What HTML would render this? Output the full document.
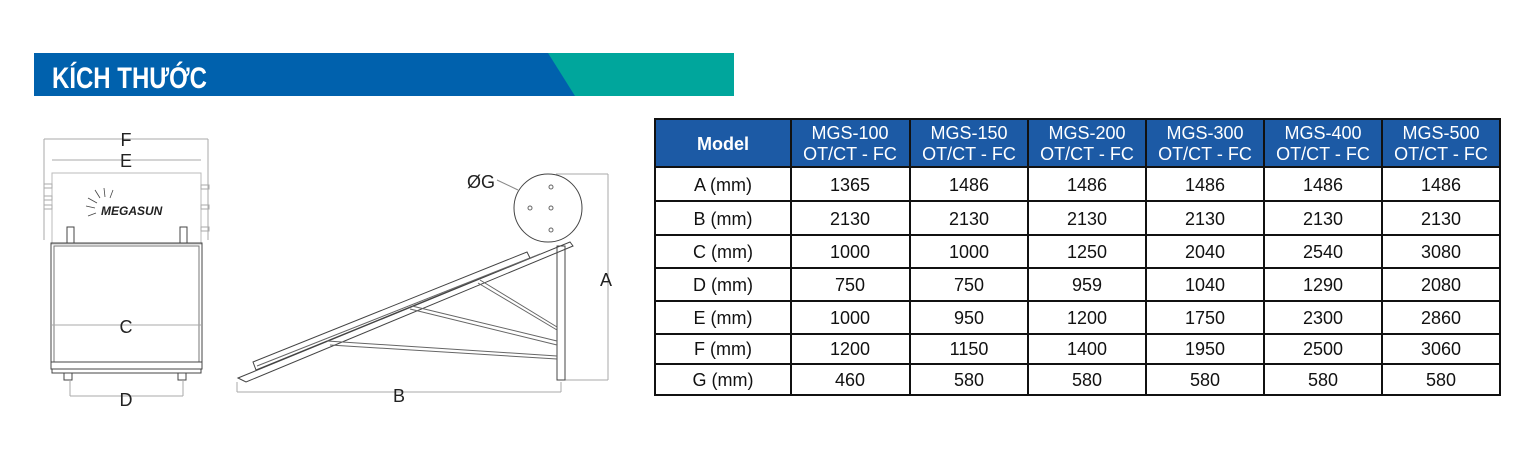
<!DOCTYPE html>
<html><head><meta charset="utf-8"><style>
html,body{margin:0;padding:0;background:#fff;width:1536px;height:461px;overflow:hidden;font-family:"Liberation Sans",sans-serif}
svg{position:absolute;left:0;top:0}
</style></head><body>
<svg width="1536" height="461" viewBox="0 0 1536 461" font-family="Liberation Sans, sans-serif">
<!-- banner -->
<rect x="34" y="53" width="700" height="43" fill="#00a69c"/>
<polygon points="34,53 548,53 575,96 34,96" fill="#0061ad"/>
<text x="52" y="88" font-size="30" font-weight="bold" fill="#fff" transform="scale(0.8,1)" transform-origin="52 88">KÍCH THƯỚC</text>

<g stroke="#666" fill="none" stroke-width="1">
<!-- front view -->
<line x1="44" y1="139" x2="44" y2="240" stroke="#aaa"/><line x1="208" y1="139" x2="208" y2="240" stroke="#aaa"/>
<line x1="44" y1="139" x2="208" y2="139" stroke="#aaa"/>
<line x1="52" y1="160" x2="201" y2="160" stroke="#aaa"/>
<rect x="52" y="173" width="149" height="71" stroke="#bbb"/>
<g stroke="#aaa"><rect x="44" y="184" width="8" height="4"/><rect x="44" y="196" width="8" height="4"/><rect x="44" y="205" width="8" height="4"/><rect x="201" y="185" width="8" height="4"/><rect x="201" y="205" width="8" height="4"/><rect x="201" y="227" width="8" height="4"/></g>
<rect x="51" y="243" width="151" height="126" stroke="#444"/>
<rect x="54" y="246" width="145" height="116" stroke="#777"/>
<line x1="52" y1="325" x2="201" y2="325" stroke="#aaa"/>
<rect x="51" y="362" width="151" height="7" stroke="#444"/>
<rect x="52" y="369" width="149" height="4" stroke="#444"/>
<rect x="67" y="227" width="7" height="16" stroke="#444"/><rect x="180" y="227" width="7" height="16" stroke="#444"/>
<rect x="64" y="373" width="8" height="7" stroke="#444"/><rect x="178" y="373" width="8" height="7" stroke="#444"/>
<line x1="70" y1="380" x2="70" y2="396" stroke="#aaa"/><line x1="183" y1="380" x2="183" y2="396" stroke="#aaa"/>
<line x1="70" y1="396" x2="183" y2="396" stroke="#aaa"/>
<!-- side view -->
<circle cx="548" cy="208" r="34" stroke="#444"/>
<circle cx="551" cy="187" r="2"/><circle cx="530" cy="208" r="2"/><circle cx="551" cy="208" r="2"/><circle cx="551" cy="230" r="2"/>
<line x1="497" y1="180" x2="518" y2="190" stroke="#888"/>
<line x1="556" y1="174" x2="608" y2="174" stroke="#aaa"/>
<line x1="608" y1="174" x2="608" y2="380" stroke="#aaa"/>
<line x1="565" y1="380" x2="608" y2="380" stroke="#aaa"/>
<polygon points="238,378 570,242 573,246 246,382" stroke="#444"/>
<polygon points="253,362 527,252 530,258 256,370" stroke="#444"/>
<line x1="257" y1="366" x2="540" y2="254"/>
<rect x="557" y="246" width="8" height="134" stroke="#444"/>
<line x1="480" y1="280" x2="557" y2="327"/><line x1="478" y1="283" x2="557" y2="330"/>
<line x1="412" y1="306" x2="557" y2="341"/><line x1="410" y1="309" x2="557" y2="345"/>
<line x1="327" y1="341" x2="557" y2="356"/><line x1="330" y1="345" x2="557" y2="359"/>
<line x1="237" y1="392" x2="561" y2="392" stroke="#aaa"/>
<line x1="237" y1="382" x2="237" y2="392" stroke="#aaa"/><line x1="561" y1="382" x2="561" y2="392" stroke="#aaa"/>
</g>
<text x="101" y="215" font-size="12" font-weight="bold" font-style="italic" fill="#222">MEGASUN</text>
<g stroke="#444" stroke-width="0.8"><line x1="97" y1="203" x2="88" y2="198"/><line x1="100" y1="198" x2="95" y2="190"/><line x1="105" y1="197" x2="104" y2="188"/><line x1="110" y1="198" x2="113" y2="190"/><line x1="95" y1="208" x2="86" y2="206"/><line x1="96" y1="213" x2="88" y2="216"/></g>
<g font-size="18" fill="#222" text-anchor="middle">
<text x="126" y="146">F</text><text x="126" y="167">E</text><text x="126" y="333">C</text><text x="126" y="406">D</text>
<text x="481" y="188">ØG</text><text x="606" y="286">A</text><text x="399" y="402">B</text>
</g>

<!-- table -->
<rect x="655" y="119" width="845" height="48" fill="#1c5aa5"/>
<g stroke="#111" stroke-width="2" fill="none">
<rect x="655" y="119" width="845" height="276"/>
<line x1="655" y1="167" x2="1500" y2="167"/>
<line x1="655" y1="201" x2="1500" y2="201"/><line x1="655" y1="235" x2="1500" y2="235"/>
<line x1="655" y1="268" x2="1500" y2="268"/><line x1="655" y1="301" x2="1500" y2="301"/>
<line x1="655" y1="334" x2="1500" y2="334"/><line x1="655" y1="364" x2="1500" y2="364"/>
<line x1="791" y1="119" x2="791" y2="395"/><line x1="910" y1="119" x2="910" y2="395"/>
<line x1="1028" y1="119" x2="1028" y2="395"/><line x1="1146" y1="119" x2="1146" y2="395"/>
<line x1="1264" y1="119" x2="1264" y2="395"/><line x1="1382" y1="119" x2="1382" y2="395"/>
</g>
<g font-size="18" fill="#fff" text-anchor="middle">
<text x="723" y="150" font-weight="bold">Model</text>
<text x="850" y="139">MGS-100</text><text x="850" y="160">OT/CT - FC</text>
<text x="969" y="139">MGS-150</text><text x="969" y="160">OT/CT - FC</text>
<text x="1087" y="139">MGS-200</text><text x="1087" y="160">OT/CT - FC</text>
<text x="1205" y="139">MGS-300</text><text x="1205" y="160">OT/CT - FC</text>
<text x="1323" y="139">MGS-400</text><text x="1323" y="160">OT/CT - FC</text>
<text x="1441" y="139">MGS-500</text><text x="1441" y="160">OT/CT - FC</text>
</g>
<g font-size="18" fill="#111" text-anchor="middle">
<g><text x="723" y="191">A (mm)</text><text x="850" y="191">1365</text><text x="969" y="191">1486</text><text x="1087" y="191">1486</text><text x="1205" y="191">1486</text><text x="1323" y="191">1486</text><text x="1441" y="191">1486</text></g>
<g><text x="723" y="225">B (mm)</text><text x="850" y="225">2130</text><text x="969" y="225">2130</text><text x="1087" y="225">2130</text><text x="1205" y="225">2130</text><text x="1323" y="225">2130</text><text x="1441" y="225">2130</text></g>
<g><text x="723" y="258">C (mm)</text><text x="850" y="258">1000</text><text x="969" y="258">1000</text><text x="1087" y="258">1250</text><text x="1205" y="258">2040</text><text x="1323" y="258">2540</text><text x="1441" y="258">3080</text></g>
<g><text x="723" y="291">D (mm)</text><text x="850" y="291">750</text><text x="969" y="291">750</text><text x="1087" y="291">959</text><text x="1205" y="291">1040</text><text x="1323" y="291">1290</text><text x="1441" y="291">2080</text></g>
<g><text x="723" y="324">E (mm)</text><text x="850" y="324">1000</text><text x="969" y="324">950</text><text x="1087" y="324">1200</text><text x="1205" y="324">1750</text><text x="1323" y="324">2300</text><text x="1441" y="324">2860</text></g>
<g><text x="723" y="355">F (mm)</text><text x="850" y="355">1200</text><text x="969" y="355">1150</text><text x="1087" y="355">1400</text><text x="1205" y="355">1950</text><text x="1323" y="355">2500</text><text x="1441" y="355">3060</text></g>
<g><text x="723" y="386">G (mm)</text><text x="850" y="386">460</text><text x="969" y="386">580</text><text x="1087" y="386">580</text><text x="1205" y="386">580</text><text x="1323" y="386">580</text><text x="1441" y="386">580</text></g>
</g>
</svg>
</body></html>
